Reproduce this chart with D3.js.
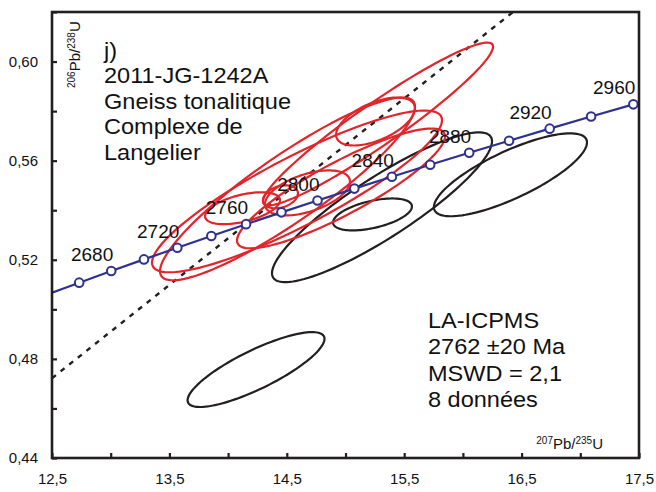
<!DOCTYPE html>
<html>
<head>
<meta charset="utf-8">
<script src="https://cdn.jsdelivr.net/npm/d3@7"></script>
<style>
  html, body { margin: 0; padding: 0; background: #ffffff; }
  svg { display: block; font-family: "Liberation Sans", Arial, sans-serif; }
</style>
</head>
<body>
<svg id="chart" width="656" height="492"></svg>
<script>
// Concordia ages (Ma) and their 207Pb/235U, 206Pb/238U ratios
const concordiaAges = [2660, 2680, 2700, 2720, 2740, 2760, 2780, 2800, 2820, 2840, 2860, 2880, 2900, 2920, 2940, 2960];
const concordiaX = [12.7316, 13.0048, 13.2834, 13.5675, 13.8573, 14.1529, 14.4543, 14.7617, 15.0753, 15.3951, 15.7212, 16.0538, 16.3931, 16.7391, 17.0919, 17.4518];
const concordiaY = [0.51076, 0.51545, 0.52016, 0.52488, 0.52962, 0.53437, 0.53914, 0.54392, 0.54872, 0.55353, 0.55836, 0.56320, 0.56806, 0.57293, 0.57782, 0.58272];
// where the curve enters the plot on the left edge
const concordiaStart = [12.5, 0.50671];
const labelledAges = [2680, 2720, 2760, 2800, 2840, 2880, 2920, 2960];

// discordia reference line (dashed)
const discordiaX = [12.5, 16.427];
const discordiaY = [0.4722, 0.62];

// analyses: centre, half-extents in x and y, error correlation
const redCx  = [15.277, 14.587, 14.506, 15.256, 14.123, 14.962, 14.446, 14.676];
const redCy  = [0.5748, 0.5476, 0.5486, 0.5758, 0.5408, 0.5488, 0.5454, 0.5470];
const redSx  = [0.980, 1.235, 1.086, 0.336, 0.319, 0.886, 0.149, 0.362];
const redSy  = [0.03285, 0.03265, 0.03688, 0.00967, 0.00645, 0.02418, 0.00464, 0.00907];
const redRho = [0.95, 0.88, 0.90, 0.55, 0.50, 0.87, 0.30, 0.50];

const blackCx  = [14.238, 16.405, 15.230, 15.311];
const blackCy  = [0.4757, 0.5543, 0.5383, 0.5412];
const blackSx  = [0.583, 0.652, 0.336, 0.937];
const blackSy  = [0.01511, 0.01673, 0.00645, 0.03023];
const blackRho = [0.82, 0.78, 0.50, 0.88];

const xTicks = [12.5, 13, 13.5, 14, 14.5, 15, 15.5, 16, 16.5, 17, 17.5];
const xTickLabels = ["12,5", "", "13,5", "", "14,5", "", "15,5", "", "16,5", "", "17,5"];
const yTicks = [0.44, 0.46, 0.48, 0.50, 0.52, 0.54, 0.56, 0.58, 0.60, 0.62];
const yTickLabels = ["0,44", "", "0,48", "", "0,52", "", "0,56", "", "0,60", ""];

const titleLines = ["j)", "2011-JG-1242A", "Gneiss tonalitique", "Complexe de", "Langelier"];
const resultLines = ["LA-ICPMS", "2762 ±20 Ma", "MSWD = 2,1", "8 données"];

const INK = "#231f20", RED = "#e3242b", BLUE = "#2e3192";

const svg = d3.select("#chart");
const m = { left: 52, right: 17, top: 12, bottom: 34 };
const W = 656, H = 492;

const x = d3.scaleLinear().domain([12.5, 17.5]).range([m.left, W - m.right]);
const y = d3.scaleLinear().domain([0.44, 0.62]).range([H - m.bottom, m.top]);

svg.append("defs").append("clipPath").attr("id", "plotClip")
  .append("rect").attr("x", m.left).attr("y", m.top)
  .attr("width", W - m.left - m.right).attr("height", H - m.top - m.bottom);

const plot = svg.append("g").attr("clip-path", "url(#plotClip)");

// error ellipse outline from centre, half-extents and correlation
function ellipsePoints(cx, cy, sx, sy, rho) {
  const n = 120, pts = [];
  const k = Math.sqrt(1 - rho * rho);
  for (let i = 0; i < n; i++) {
    const t = (i / n) * 2 * Math.PI;
    pts.push([cx + sx * Math.cos(t), cy + sy * (rho * Math.cos(t) + k * Math.sin(t))]);
  }
  return pts;
}
const closedLine = d3.line().x(d => x(d[0])).y(d => y(d[1])).curve(d3.curveLinearClosed);

// discordia
plot.append("line")
  .attr("x1", x(discordiaX[0])).attr("y1", y(discordiaY[0]))
  .attr("x2", x(discordiaX[1])).attr("y2", y(discordiaY[1]))
  .attr("stroke", INK).attr("stroke-width", 2.4).attr("stroke-dasharray", "5,6");

// black (excluded) analyses
blackCx.forEach((cx, i) => {
  plot.append("path")
    .attr("d", closedLine(ellipsePoints(cx, blackCy[i], blackSx[i], blackSy[i], blackRho[i])))
    .attr("fill", "none").attr("stroke", INK).attr("stroke-width", 2.2);
});

// red analyses used in the age
redCx.forEach((cx, i) => {
  plot.append("path")
    .attr("d", closedLine(ellipsePoints(cx, redCy[i], redSx[i], redSy[i], redRho[i])))
    .attr("fill", "none").attr("stroke", RED).attr("stroke-width", 2.2);
});

// concordia curve
const curvePts = [concordiaStart].concat(concordiaX.map((v, i) => [v, concordiaY[i]]));
plot.append("path")
  .attr("d", d3.line().x(d => x(d[0])).y(d => y(d[1]))(curvePts))
  .attr("fill", "none").attr("stroke", BLUE).attr("stroke-width", 2.2);

plot.selectAll("circle.age").data(concordiaAges).enter().append("circle")
  .attr("class", "age")
  .attr("cx", (d, i) => x(concordiaX[i])).attr("cy", (d, i) => y(concordiaY[i]))
  .attr("r", 4.3).attr("fill", "#ffffff").attr("stroke", BLUE).attr("stroke-width", 2);

// age labels
labelledAges.forEach(age => {
  const i = concordiaAges.indexOf(age);
  svg.append("text")
    .attr("x", x(concordiaX[i]) + 2).attr("y", y(concordiaY[i]) - 10)
    .attr("text-anchor", "end").attr("font-size", 19).attr("fill", "#111")
    .text(String(age));
});

// axes with inward ticks
const xAxis = d3.axisBottom(x).tickValues(xTicks)
  .tickFormat((d, i) => xTickLabels[i]).tickSizeInner(-5).tickSizeOuter(0).tickPadding(15);
const yAxis = d3.axisLeft(y).tickValues(yTicks)
  .tickFormat((d, i) => yTickLabels[i]).tickSizeInner(-5).tickSizeOuter(0).tickPadding(14);

const gx = svg.append("g").attr("transform", `translate(0,${H - m.bottom})`).call(xAxis);
const gy = svg.append("g").attr("transform", `translate(${m.left},0)`).call(yAxis);
[gx, gy].forEach(g => {
  g.select(".domain").remove();
  g.selectAll(".tick line").attr("stroke", INK).attr("stroke-width", 2.2);
  g.selectAll(".tick text").attr("font-size", 15).attr("fill", "#111")
    .attr("font-family", "'Liberation Sans', Arial, sans-serif");
});

// frame
svg.append("rect")
  .attr("x", m.left).attr("y", m.top)
  .attr("width", W - m.left - m.right).attr("height", H - m.top - m.bottom)
  .attr("fill", "none").attr("stroke", INK).attr("stroke-width", 2.6);

// axis titles
const yTitle = svg.append("text")
  .attr("transform", "translate(80,88) rotate(-90)")
  .attr("font-size", 15).attr("fill", "#111");
yTitle.append("tspan").attr("font-size", 10).attr("dy", -5).text("206");
yTitle.append("tspan").attr("dy", 5).text("Pb/");
yTitle.append("tspan").attr("font-size", 10).attr("dy", -5).text("238");
yTitle.append("tspan").attr("dy", 5).text("U");

const xTitle = svg.append("text")
  .attr("x", 603).attr("y", 449).attr("text-anchor", "end")
  .attr("font-size", 15).attr("fill", "#111");
xTitle.append("tspan").attr("font-size", 10).attr("dy", -5).text("207");
xTitle.append("tspan").attr("dy", 5).text("Pb/");
xTitle.append("tspan").attr("font-size", 10).attr("dy", -5).text("235");
xTitle.append("tspan").attr("dy", 5).text("U");

// text blocks
function textBlock(lines, x0, y0, step) {
  const g = svg.append("g").attr("transform", `translate(${x0},${y0}) scale(1.07,1)`);
  lines.forEach((t, i) => {
    g.append("text").attr("x", 0).attr("y", i * step)
      .attr("font-size", 22).attr("fill", "#111").text(t);
  });
}
textBlock(titleLines, 104, 58, 25.5);
textBlock(resultLines, 428, 328, 26.3);
</script>
</body>
</html>
